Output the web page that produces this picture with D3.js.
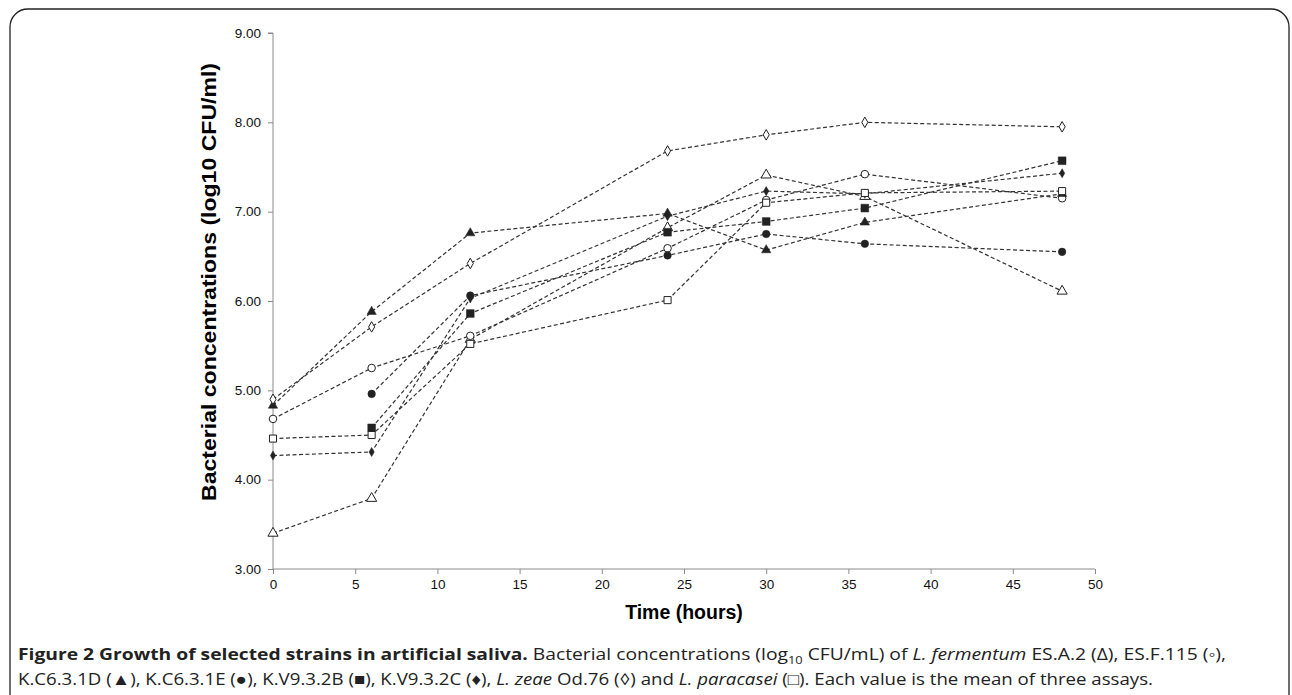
<!DOCTYPE html>
<html>
<head>
<meta charset="utf-8">
<script src="https://cdn.jsdelivr.net/npm/d3@7"></script>
<style>
  body { margin: 0; background: #fff; }
</style>
</head>
<body>
<script>
// time points (hours)
var hours = [0, 6, 12, 24, 30, 36, 48];

// log10 CFU/ml for each strain, null = not measured
var esA2      = [3.40, 3.79, 5.57, 6.82, 7.41, 7.17, 6.11];
var esF115    = [4.68, 5.25, 5.61, 6.59, 7.13, 7.42, 7.15];
var kC631D    = [4.83, 5.88, 6.76, 6.98, 6.57, 6.88, 7.20];
var kC631E    = [null, 4.96, 6.06, 6.51, 6.75, 6.64, 6.55];
var kV932B    = [null, 4.58, 5.86, 6.77, 6.89, 7.04, 7.57];
var kV932C    = [4.27, 4.31, 6.03, 6.95, 7.23, 7.20, 7.43];
var od76      = [4.90, 5.71, 6.42, 7.68, 7.86, 8.00, 7.95];
var paracasei = [4.46, 4.50, 5.52, 6.01, 7.10, 7.21, 7.23];

var xTicks = [0, 5, 10, 15, 20, 25, 30, 35, 40, 45, 50];
var yTicks = [3, 4, 5, 6, 7, 8, 9];

var series = [
    {name: "ES.A.2", values: esA2, shape: d3.symbolTriangle, open: true, size: 45},
    {name: "ES.F.115", values: esF115, shape: d3.symbolCircle, open: true, size: 45},
    {name: "K.C6.3.1D", values: kC631D, shape: d3.symbolTriangle, open: false, size: 38},
    {name: "K.C6.3.1E", values: kC631E, shape: d3.symbolCircle, open: false, size: 45},
    {name: "K.V9.3.2B", values: kV932B, shape: d3.symbolSquare, open: false, size: 60},
    {name: "K.V9.3.2C", values: kV932C, shape: d3.symbolDiamond, open: false, size: 24},
    {name: "Od.76", values: od76, shape: d3.symbolDiamond, open: true, size: 32},
    {name: "paracasei", values: paracasei, shape: d3.symbolSquare, open: true, size: 50}
];

var W = 1292, H = 695;
var svg = d3.select("body").append("svg")
    .attr("width", W)
    .attr("height", H);

var sans = "'Liberation Sans', Arial, sans-serif";

// figure frame
svg.append("rect")
    .attr("x", 10).attr("y", 9)
    .attr("width", 1279).attr("height", 740)
    .attr("rx", 18).attr("ry", 18)
    .style("fill", "none")
    .style("stroke", "#222")
    .style("stroke-width", 1.3);

var x = d3.scaleLinear().domain([0, 50]).range([273, 1095]);
var y = d3.scaleLinear().domain([3, 9]).range([569, 33]);

var yAxis = d3.axisLeft(y).tickValues(yTicks).tickFormat(d3.format(".2f")).tickSize(5).tickPadding(7);
var xAxis = d3.axisBottom(x).tickValues(xTicks).tickSize(5).tickPadding(5);

function styleAxis(g){
    g.selectAll("line").style("stroke", "#8a8a8a");
    g.select(".domain").style("stroke", "#8a8a8a");
    g.selectAll("text")
        .style("font-family", sans)
        .style("font-size", "13.5px")
        .style("fill", "#111");
}

svg.append("g")
    .attr("transform", "translate(273,0)")
    .call(yAxis)
    .call(function(g){ g.select(".domain").attr("d", "M-5,33H0V569"); })
    .call(styleAxis);

svg.append("g")
    .attr("transform", "translate(0,569)")
    .call(xAxis)
    .call(function(g){ g.select(".domain").attr("d", "M273,0H1095"); })
    .call(styleAxis);

// axis titles
svg.append("text")
    .attr("transform", "translate(216,282) rotate(-90)")
    .attr("text-anchor", "middle")
    .attr("textLength", 438)
    .attr("lengthAdjust", "spacingAndGlyphs")
    .style("font-family", sans)
    .style("font-size", "20px")
    .style("font-weight", "bold")
    .text("Bacterial concentrations (log10 CFU/ml)");

svg.append("text")
    .attr("x", 684).attr("y", 619)
    .attr("text-anchor", "middle")
    .style("font-family", sans)
    .style("font-size", "19.5px")
    .style("font-weight", "bold")
    .text("Time (hours)");

var line = d3.line()
    .defined(function(d){ return d.v !== null; })
    .x(function(d){ return x(d.t); })
    .y(function(d){ return y(d.v); });

series.forEach(function(s){
    var pts = hours.map(function(t, i){ return {t: t, v: s.values[i]}; });

    svg.append("path")
        .datum(pts)
        .attr("d", line)
        .style("fill", "none")
        .style("stroke", "#333")
        .style("stroke-width", 1.2)
        .style("stroke-dasharray", "4,2.5");

    svg.selectAll(null)
        .data(pts.filter(function(d){ return d.v !== null; }))
        .enter()
        .append("path")
        .attr("transform", function(d){ return "translate(" + x(d.t) + "," + y(d.v) + ")"; })
        .attr("d", d3.symbol().type(s.shape).size(s.size))
        .style("fill", s.open ? "#fff" : "#222")
        .style("stroke", "#222")
        .style("stroke-width", s.open ? 1 : 0.5);
});

// caption
var capFont = "'Open Sans', 'Noto Sans', sans-serif";

var cap1 = svg.append("text")
    .attr("x", 18).attr("y", 660)
    .attr("textLength", 1208)
    .attr("lengthAdjust", "spacingAndGlyphs")
    .style("font-family", capFont)
    .style("font-size", "16.5px")
    .style("fill", "#222");
cap1.append("tspan").style("font-weight", "bold").text("Figure 2 Growth of selected strains in artificial saliva.");
cap1.append("tspan").text(" Bacterial concentrations (log");
cap1.append("tspan").attr("dy", 4).style("font-size", "11px").text("10");
cap1.append("tspan").attr("dy", -4).text(" CFU/mL) of ");
cap1.append("tspan").style("font-style", "italic").text("L. fermentum");
cap1.append("tspan").text(" ES.A.2 (\u0394), ES.F.115 (\u25E6),");

var cap2 = svg.append("text")
    .attr("x", 18).attr("y", 685)
    .attr("textLength", 1135)
    .attr("lengthAdjust", "spacingAndGlyphs")
    .style("font-family", capFont)
    .style("font-size", "16.5px")
    .style("fill", "#222");
cap2.append("tspan").text("K.C6.3.1D (\u25B2), K.C6.3.1E (\u25CF), K.V9.3.2B (\u25A0), K.V9.3.2C (\u2666), ");
cap2.append("tspan").style("font-style", "italic").text("L. zeae");
cap2.append("tspan").text(" Od.76 (\u25CA) and ");
cap2.append("tspan").style("font-style", "italic").text("L. paracasei");
cap2.append("tspan").text(" (\u25A1). Each value is the mean of three assays.");
</script>
</body>
</html>
